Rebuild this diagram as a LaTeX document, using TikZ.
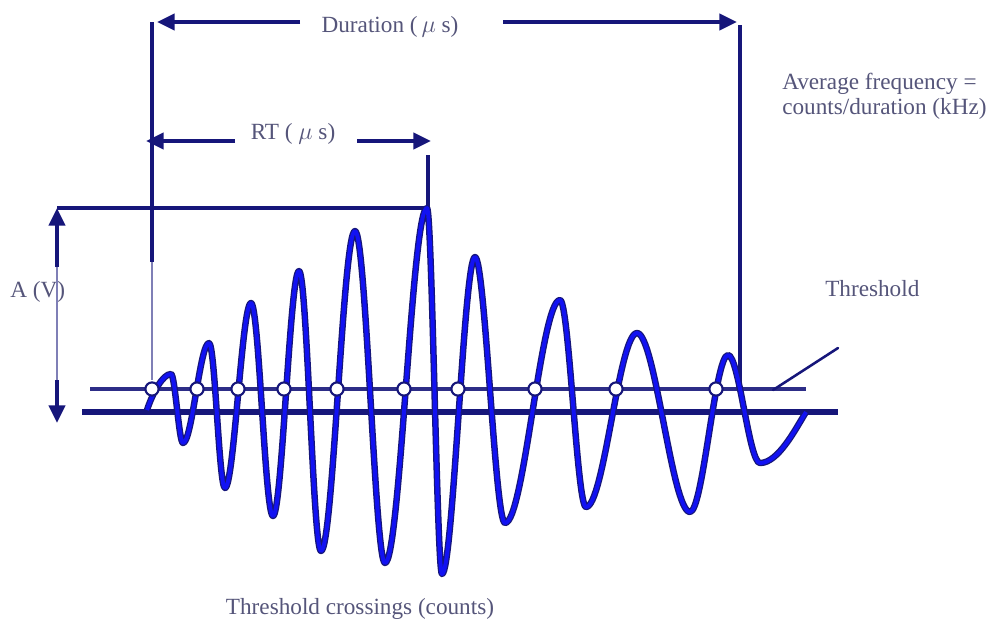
\documentclass[tikz,border=0pt]{standalone}
\usepackage{fontspec}
\setmainfont{Liberation Serif}
\usetikzlibrary{arrows.meta}
\definecolor{aenavy}{HTML}{16167A}
\definecolor{aeblue}{HTML}{1212F2}
\definecolor{aegrey}{HTML}{55557A}

\begin{document}
\begin{tikzpicture}[x=0.025cm, y=-0.025cm,
    dim/.style={line width=2.8pt, draw=aenavy},
    dimarr/.style={dim, -{Triangle[length=0.44cm, width=0.4cm]}},
    faint/.style={line width=0.8pt, draw=aenavy!55},
    lbl/.style={font=\fontsize{16.5}{15}\selectfont, text=aegrey, inner sep=0pt},
    xing/.style={circle, draw=aenavy, fill=white, line width=1.5pt,
        minimum size=0.33cm, inner sep=0pt},
    thresh/.style={line width=2.2pt, draw=aenavy!90},
    base/.style={line width=3.6pt, draw=aenavy},
    wave/.style={line width=2.8pt, draw=aeblue, line join=round,
        preaction={draw=aenavy, line width=4.6pt, line join=round}}
]
    \useasboundingbox[fill=white] (0,0) rectangle (990,621);

    % === labels ===
    \node[lbl, anchor=base] (dur) at (390,32) {Duration (\,$\mu$ s)};
    \node[lbl, anchor=base] (rt) at (293,139) {RT ( $\mu$ s)};
    \node[lbl, anchor=base west] (avg1) at (782,89) {Average frequency =};
    \node[lbl, anchor=base west] (avg2) at (782,114) {counts/duration (kHz)};
    \node[lbl, anchor=base west] (thr) at (825,296) {Threshold};
    \node[lbl, anchor=base west] (amp) at (10,297) {A (V)};
    \node[lbl, anchor=base] (cnt) at (360,614) {Threshold crossings (counts)};

    % === reference points ===
    \coordinate (durtop) at (152,22);
    \coordinate (durmid) at (152,262);
    \coordinate (durbot) at (152,380);
    \coordinate (durlA) at (300,22);
    \coordinate (durlB) at (157,22);
    \coordinate (durrA) at (503,22);
    \coordinate (durrB) at (737,22);
    \coordinate (endtop) at (740,25);
    \coordinate (endbot) at (740,392);
    \coordinate (rtlA) at (235,141);
    \coordinate (rtlB) at (146,141);
    \coordinate (rtrA) at (357,141);
    \coordinate (rtrB) at (431,141);
    \coordinate (pktop) at (428,155);
    \coordinate (pk) at (428,208);
    \coordinate (amptop) at (57,208);
    \coordinate (ampup) at (57,267);
    \coordinate (ampdn) at (57,380);
    \coordinate (ampbot) at (57,423);
    \coordinate (thrL) at (90,389);
    \coordinate (thrR) at (806,389);
    \coordinate (baseL) at (82,412);
    \coordinate (baseR) at (838,412);
    \coordinate (leadA) at (773,390);
    \coordinate (leadB) at (838,348);

    % --- duration ---
    \draw[dim] (durtop) -- (durmid);
    \draw[faint] (durmid) -- (durbot);
    \draw[dimarr] (durlA) -- (durlB);
    \draw[dimarr] (durrA) -- (durrB);
    \draw[dim] (endtop) -- (endbot);

    % --- rise time ---
    \draw[dimarr] (rtlA) -- (rtlB);
    \draw[dimarr] (rtrA) -- (rtrB);
    \draw[dim] (pktop) -- (pk);

    % --- amplitude ---
    \draw[line width=2.4pt, draw=aenavy] (amptop) -- (pk);
    \draw[dimarr] (ampup) -- (amptop);
    \draw[faint] (ampup) -- (ampdn);
    \draw[dimarr] (ampdn) -- (ampbot);

    % --- threshold and zero line ---
    \draw[thresh] (thrL) -- (thrR);
    \draw[base] (baseL) -- (baseR);
    \draw[line width=1.8pt, draw=aenavy, line cap=round] (leadA) -- (leadB);

    % --- burst ---
    \draw[wave] (147,410)
        .. controls (153,392) and (163,374) .. (171,374)
        .. controls (175,374) and (179,443) .. (183,443)
        .. controls (192,443) and (200,343) .. (209,343)
        .. controls (215,343) and (219,488) .. (225,488)
        .. controls (234,488) and (242,303) .. (251,303)
        .. controls (259,303) and (265,516) .. (273,516)
        .. controls (282,516) and (290,271) .. (299,271)
        .. controls (307,271) and (313,551) .. (321,551)
        .. controls (333,551) and (343,231) .. (355,231)
        .. controls (366,231) and (375,563) .. (385,563)
        .. controls (400,563) and (412,208) .. (427,208)
        .. controls (432,208) and (437,574) .. (442,574)
        .. controls (453,574) and (464,257) .. (475,257)
        .. controls (485,257) and (495,523) .. (505,523)
        .. controls (524,523) and (541,300) .. (560,300)
        .. controls (569,300) and (577,507) .. (586,507)
        .. controls (604,507) and (619,333) .. (637,333)
        .. controls (655,333) and (672,512) .. (690,512)
        .. controls (703,512) and (715,355) .. (728,355)
        .. controls (739,355) and (749,463) .. (760,463)
        .. controls (778,463) and (795,430) .. (806,412);

    % --- threshold crossings ---
    \node[xing] (x1) at (152,389) {};
    \node[xing] (x2) at (197,389) {};
    \node[xing] (x3) at (238,389) {};
    \node[xing] (x4) at (284,389) {};
    \node[xing] (x5) at (337,389) {};
    \node[xing] (x6) at (404,389) {};
    \node[xing] (x7) at (458,389) {};
    \node[xing] (x8) at (535,389) {};
    \node[xing] (x9) at (616,389) {};
    \node[xing] (x10) at (716,389) {};
\end{tikzpicture}
\end{document}
